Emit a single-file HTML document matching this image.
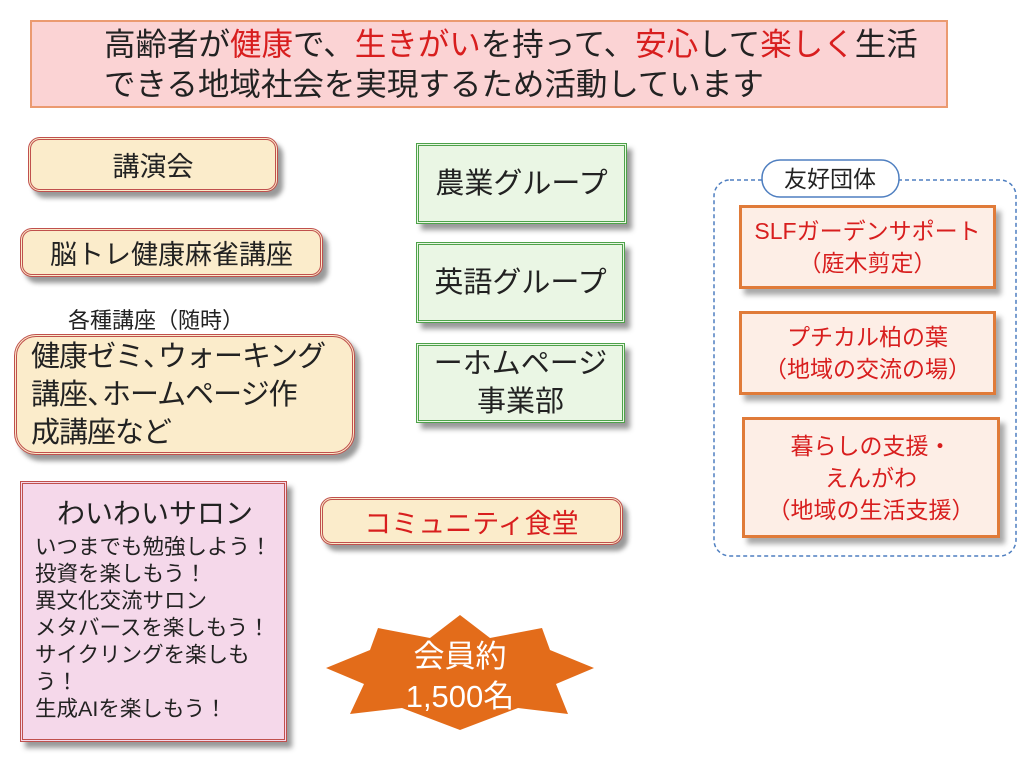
<!DOCTYPE html>
<html><head><meta charset="utf-8"><style>
body{margin:0;width:1024px;height:757px;background:#fff;position:relative;overflow:hidden;font-family:"Liberation Sans","Noto Sans CJK JP",sans-serif;}
.a{position:absolute;box-sizing:border-box;display:flex;flex-direction:column;align-items:center;justify-content:center;text-align:center;color:#222;}
.y{background:#fbeccb;border:3px double #c0504d;border-radius:12px;box-shadow:5px 6px 5px #999;}
.g{background:#eaf6e4;border:3px double #4ea24a;box-shadow:5px 6px 5px #999;font-size:29px;line-height:38px;}
.o{background:#fdeee6;border:3px solid #e07b39;box-shadow:5px 6px 5px #aaa;color:#d81e1e;font-size:23px;line-height:32px;}
.r{color:#d81e1e}
</style></head><body>
<div class="a" style="left:30px;top:20px;width:918px;height:88px;background:#fbd3d4;border:2px solid #eb9a70;align-items:flex-start;padding-left:72px;font-size:31.5px;line-height:40px;white-space:nowrap;">
<div>高齢者が<span class="r">健康</span>で、<span class="r">生きがい</span>を持って、<span class="r">安心</span>して<span class="r">楽しく</span>生活</div>
<div>できる地域社会を実現するため活動しています</div></div>

<div class="a y" style="left:28px;top:137px;width:250px;height:55px;font-size:27px;">講演会</div>
<div class="a y" style="left:20px;top:228px;width:303px;height:49px;font-size:27px;">脳トレ健康麻雀講座</div>
<div style="position:absolute;left:68px;top:303px;font-size:22px;color:#222;">各種講座（随時）</div>
<div class="a y" style="left:14px;top:334px;width:341px;height:121px;border-radius:22px;font-size:29px;line-height:38px;align-items:flex-start;padding-left:14px;text-align:left;white-space:nowrap;letter-spacing:-1px;">
<div>健康ゼミ<span style="letter-spacing:-14px">、</span>ウォーキング</div><div>講座<span style="letter-spacing:-14px">、</span>ホームページ作</div><div>成講座など</div></div>

<div class="a g" style="left:416px;top:143px;width:211px;height:81px;">農業グループ</div>
<div class="a g" style="left:416px;top:242px;width:209px;height:81px;">英語グループ</div>
<div class="a g" style="left:416px;top:343px;width:209px;height:80px;"><div>ーホムページ</div><div>事業部</div></div>

<div class="a y" style="left:320px;top:497px;width:303px;height:48px;font-size:27px;color:#d81e1e;">コミュニティ食堂</div>

<div class="a" style="left:20px;top:481px;width:267px;height:261px;background:#f5d8ea;border:3px double #c0504d;box-shadow:5px 6px 5px #999;justify-content:flex-start;align-items:flex-start;padding:10px 0 0 12px;text-align:left;">
<div style="font-size:28px;line-height:40px;padding-left:22px;">わいわいサロン</div>
<div style="font-size:21.5px;line-height:27px;">いつまでも勉強しよう！<br>投資を楽しもう！<br>異文化交流サロン<br>メタバースを楽しもう！<br>サイクリングを楽しも<br>う！<br>生成AIを楽しもう！</div></div>

<svg style="position:absolute;left:0;top:0" width="1024" height="757">
<polygon fill="#e36c1a" points="460,615 490,638 542,628 550,650 594,668 556,684 568,714 518,708 460,730 402,708 350,714 364,684 326,668 370,650 378,628 430,638"/>
<text x="460" y="667" fill="#fff" font-size="31" text-anchor="middle" font-family="Liberation Sans,Noto Sans CJK JP,sans-serif">会員約</text>
<text x="460" y="707" fill="#fff" font-size="31" text-anchor="middle" font-family="Liberation Sans,Noto Sans CJK JP,sans-serif">1,500名</text>
<rect x="714" y="180" width="302" height="376" rx="16" fill="none" stroke="#4f7fc0" stroke-width="1.5" stroke-dasharray="4,3"/>
<rect x="762" y="160" width="137" height="37" rx="18" fill="#fff" stroke="#4f7fc0" stroke-width="1.5"/>
<text x="830" y="187" fill="#222" font-size="23" text-anchor="middle" font-family="Liberation Sans,Noto Sans CJK JP,sans-serif">友好団体</text>
</svg>

<div class="a o" style="left:739px;top:205px;width:257px;height:84px;"><div>SLFガーデンサポート</div><div>（庭木剪定）</div></div>
<div class="a o" style="left:739px;top:311px;width:257px;height:84px;"><div>プチカル柏の葉</div><div>（地域の交流の場）</div></div>
<div class="a o" style="left:742px;top:417px;width:258px;height:121px;"><div>暮らしの支援・</div><div>えんがわ</div><div>（地域の生活支援）</div></div>
</body></html>
